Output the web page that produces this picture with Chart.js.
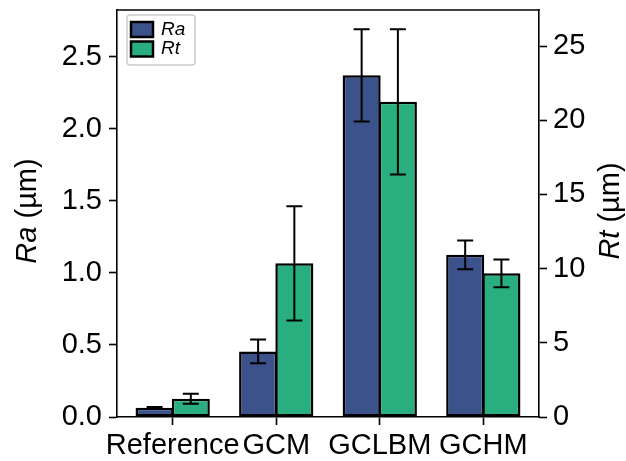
<!DOCTYPE html>
<html><head><meta charset="utf-8">
<script src="https://cdn.jsdelivr.net/npm/chart.js@4/dist/chart.umd.min.js"></script>
<style>html,body{margin:0;padding:0;background:#fff}canvas{display:block}</style>
</head><body>
<canvas id="c" width="626" height="461"></canvas>
<script>
// ---- data ----
const categories = ['Reference', 'GCM', 'GCLBM', 'GCHM'];
const raValues = [0.065, 0.455, 2.37, 1.125];
const raErrors = [0.005, 0.083, 0.32, 0.10];
const rtValues = [1.23, 10.36, 21.24, 9.68];
const rtErrors = [0.34, 3.85, 4.9, 0.93];
const raTicks = [0, 0.5, 1.0, 1.5, 2.0, 2.5];
const rtTicks = [0, 5, 10, 15, 20, 25];
const raMax = 2.823;
const rtMax = 27.43;
const xMin = -0.538, xMax = 3.538;

const FONT = "'Liberation Sans', Arial, Helvetica, sans-serif";
const TICK_FONT = { family: FONT, size: 29 };
const RA_COLOR = '#3b528b';
const RT_COLOR = '#29af7f';

const axisGrid = { display: true, offset: false, drawOnChartArea: false, drawTicks: true, tickLength: 8, tickWidth: 1.6, tickColor: '#000' };
const axisBorder = { display: true, color: '#000', width: 1.6 };

const errorBars = {
  id: 'errorBars',
  afterDatasetsDraw(chart) {
    const ctx = chart.ctx;
    ctx.save();
    ctx.strokeStyle = '#000';
    ctx.lineWidth = 2;
    chart.data.datasets.forEach((ds, di) => {
      const meta = chart.getDatasetMeta(di);
      const scale = chart.scales[ds.yAxisID];
      meta.data.forEach((el, i) => {
        const v = ds.data[i].y, e = ds.errors[i];
        const yt = scale.getPixelForValue(v + e);
        const yb = scale.getPixelForValue(v - e);
        const x = el.x, cap = 8;
        ctx.beginPath();
        ctx.moveTo(x, yt); ctx.lineTo(x, yb);
        ctx.moveTo(x - cap, yt); ctx.lineTo(x + cap, yt);
        ctx.moveTo(x - cap, yb); ctx.lineTo(x + cap, yb);
        ctx.stroke();
      });
    });
    ctx.restore();
  }
};

function drawMixedTitle(ctx, cx, cy, italicPart, normalPart, size) {
  ctx.save();
  ctx.translate(cx, cy);
  ctx.rotate(-Math.PI / 2);
  ctx.fillStyle = '#000';
  ctx.textBaseline = 'middle';
  ctx.textAlign = 'left';
  const fi = 'italic ' + size + 'px ' + FONT;
  const fn = size + 'px ' + FONT;
  ctx.font = fi; const wi = ctx.measureText(italicPart).width;
  ctx.font = fn; const wn = ctx.measureText(normalPart).width;
  const x0 = -(wi + wn) / 2;
  ctx.font = fi; ctx.fillText(italicPart, x0, 0);
  ctx.font = fn; ctx.fillText(normalPart, x0 + wi, 0);
  ctx.restore();
}

const decorations = {
  id: 'decorations',
  afterDraw(chart) {
    const ctx = chart.ctx;
    const a = chart.chartArea;
    ctx.save();
    ctx.strokeStyle = '#000';
    ctx.lineWidth = 1.6;
    ctx.beginPath();
    ctx.moveTo(a.left - 0.8, a.top); ctx.lineTo(a.right + 0.8, a.top);
    ctx.stroke();
    ctx.restore();
    drawMixedTitle(ctx, 28, 211, 'Ra', ' (\u00b5m)', 29);
    drawMixedTitle(ctx, 611, 211, 'Rt', ' (\u00b5m)', 29);
    ctx.save();
    const lx = 127, ly = 15, lw = 68, lh = 50, r = 3;
    ctx.beginPath();
    ctx.moveTo(lx + r, ly);
    ctx.arcTo(lx + lw, ly, lx + lw, ly + lh, r);
    ctx.arcTo(lx + lw, ly + lh, lx, ly + lh, r);
    ctx.arcTo(lx, ly + lh, lx, ly, r);
    ctx.arcTo(lx, ly, lx + lw, ly, r);
    ctx.closePath();
    ctx.fillStyle = 'rgba(255,255,255,0.8)';
    ctx.fill();
    ctx.strokeStyle = '#cccccc';
    ctx.lineWidth = 1.5;
    ctx.stroke();
    const rows = [22, 41.5];
    chart.data.datasets.forEach((ds, i) => {
      const y = rows[i];
      ctx.fillStyle = ds.backgroundColor;
      ctx.fillRect(131, y, 22, 15);
      ctx.strokeStyle = '#000';
      ctx.lineWidth = 2.5;
      ctx.strokeRect(131, y, 22, 15);
      ctx.fillStyle = '#000';
      ctx.font = 'italic 19px ' + FONT;
      ctx.textBaseline = 'middle';
      ctx.textAlign = 'left';
      ctx.fillText(ds.label, 161, y + 7.5);
    });
    ctx.restore();
  }
};

new Chart(document.getElementById('c'), {
  type: 'bar',
  data: {
    datasets: [
      {
        label: 'Ra',
        data: raValues.map((v, i) => ({ x: i, y: v })),
        errors: raErrors,
        yAxisID: 'y',
        backgroundColor: RA_COLOR,
        borderColor: '#000',
        borderWidth: 2.5,
        borderSkipped: false,
        categoryPercentage: 0.7,
        barPercentage: 1.05
      },
      {
        label: 'Rt',
        data: rtValues.map((v, i) => ({ x: i, y: v })),
        errors: rtErrors,
        yAxisID: 'y1',
        backgroundColor: RT_COLOR,
        borderColor: '#000',
        borderWidth: 2.5,
        borderSkipped: false,
        categoryPercentage: 0.7,
        barPercentage: 1.05
      }
    ]
  },
  options: {
    responsive: false,
    animation: false,
    devicePixelRatio: 1,
    layout: { padding: { top: 10, left: 0, right: 0, bottom: 0 } },
    plugins: { legend: { display: false }, tooltip: { enabled: false } },
    scales: {
      x: {
        type: 'linear',
        position: 'bottom',
        min: xMin, max: xMax,
        bounds: 'data',
        offset: false,
        grid: axisGrid,
        border: axisBorder,
        ticks: {
          font: TICK_FONT, color: '#000', padding: 4,
          maxRotation: 0, minRotation: 0, autoSkip: false,
          callback: (v) => categories[v]
        },
        afterBuildTicks: (s) => { s.ticks = categories.map((c, i) => ({ value: i })); },
        afterFit: (s) => { s.height = 44; s.paddingLeft = 0; s.paddingRight = 0; }
      },
      y: {
        type: 'linear',
        position: 'left',
        min: 0, max: raMax,
        bounds: 'data',
        grid: axisGrid,
        border: axisBorder,
        ticks: { font: TICK_FONT, color: '#000', padding: 7, callback: (v) => Number(v).toFixed(1) },
        afterBuildTicks: (s) => { s.ticks = raTicks.map((v) => ({ value: v })); },
        afterFit: (s) => { s.width = 117; s.paddingTop = 0; s.paddingBottom = 0; }
      },
      y1: {
        type: 'linear',
        position: 'right',
        min: 0, max: rtMax,
        bounds: 'data',
        grid: axisGrid,
        border: axisBorder,
        ticks: { font: TICK_FONT, color: '#000', padding: 6, callback: (v) => String(v) },
        afterBuildTicks: (s) => { s.ticks = rtTicks.map((v) => ({ value: v })); },
        afterFit: (s) => { s.width = 87; s.paddingTop = 0; s.paddingBottom = 0; }
      }
    }
  },
  plugins: [errorBars, decorations]
});
</script>
</body></html>
